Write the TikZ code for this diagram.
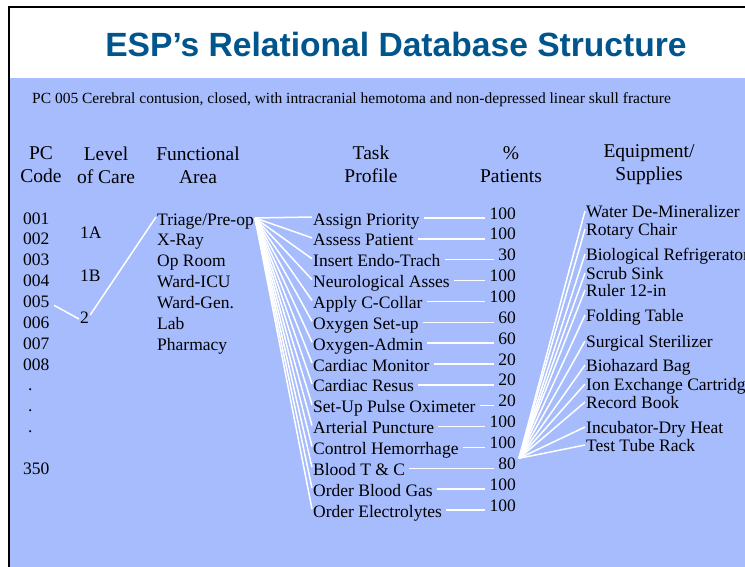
\documentclass[tikz,border=0pt]{standalone}
\usepackage{fontspec}
\setmainfont{Liberation Serif}
\newfontfamily\titlefont{Liberation Sans}
\usetikzlibrary{positioning}
\usetikzlibrary{calc}
\definecolor{slideblue}{RGB}{166,188,252}
\definecolor{titleblue}{RGB}{0,85,140}
\tikzset{
  item/.style={anchor=west,inner sep=1pt,text height=12pt,text depth=4pt,font=\fontsize{17.5}{20}\selectfont},
  pct/.style={item,anchor=east},
  head/.style={align=center,inner sep=1pt,font=\fontsize{19.5}{23}\selectfont},
  link/.style={draw=white,line width=1.5pt}
}
\begin{document}
\begin{tikzpicture}[x=1pt,y=-1pt]
    \useasboundingbox (0,0) rectangle (745,566);
    \clip (0,0) rectangle (745,566);
    \fill[white] (0,0) rectangle (745,566);
    \fill[slideblue] (9,78) rectangle (760,580);
    \draw[line width=2.5pt] (9,7) rectangle (760,580);
    \node[text=titleblue,font=\titlefont\bfseries\fontsize{33.6}{40}\selectfont] (title) at (396,44) {ESP’s Relational Database Structure};
    \node[anchor=west,inner sep=1pt,font=\fontsize{15.5}{18}\selectfont] (case) at (31,100) {PC 005 Cerebral contusion, closed, with intracranial hemotoma and non-depressed linear skull fracture};
    \node[head] (hpc) at (41,165) {PC\\Code};
    \node[head] (hlv) at (106,165) {Level\\of Care};
    \node[head] (hfa) at (198,165) {Functional\\Area};
    \node[head] (htk) at (371,164) {Task\\Profile};
    \node[head] (hpt) at (511,165) {\%\\Patients};
    \node[head] (heq) at (649,165) {Equipment/\\Supplies};
    \foreach \c [count=\i] in {001,002,003,004,005,006,007,008}
      \node[item] (pc\i) at (22,{220+20.86*(\i-1)}) {\c};
    \foreach \k in {8,9,10}
      \node[item] (dot\k) at (27,{220+20.86*\k}) {.};
    \node[item] (pc350) at (22,{220+20.86*12}) {350};
    \node[item] (lv1) at (79,234) {1A};
    \node[item] (lv2) at (79,277) {1B};
    \node[item] (lv3) at (79,319) {2};
    \foreach \a [count=\i] in {Triage/Pre-op,X-Ray,Op Room,Ward-ICU,Ward-Gen.,Lab,Pharmacy}
      \node[item] (fa\i) at (156,{221+20.86*(\i-1)}) {\a};
    \foreach \t [count=\i] in {Assign Priority,Assess Patient,Insert Endo-Trach,Neurological Asses,Apply C-Collar,Oxygen Set-up,Oxygen-Admin,Cardiac Monitor,Cardiac Resus,Set-Up Pulse Oximeter,Arterial Puncture,Control Hemorrhage,Blood T \& C,Order Blood Gas,Order Electrolytes}
      \node[item] (tk\i) at (312,{221+20.86*(\i-1)}) {\t};
    \foreach \v [count=\i] in {100,100,30,100,100,60,60,20,20,20,100,100,80,100,100}
      \node[pct] (p\i) at (517,{215+20.86*(\i-1)}) {\v};
    \foreach \e/\y [count=\i] in {Water De-Mineralizer/213,Rotary Chair/231,Biological Refrigerator/256,Scrub Sink/275,Ruler 12-in/292,Folding Table/317,Surgical Sterilizer/343,Biohazard Bag/367,Ion Exchange Cartridge/386,Record Book/404,Incubator-Dry Heat/429,Test Tube Rack/447}
      \node[item] (eq\i) at (585,\y) {\e};
    \draw[link,shorten <=4pt] (pc5.east) -- (lv3.west);
    \draw[link] ([yshift=4pt]lv3.east) -- ([yshift=4pt]fa1.west);
    \foreach \i in {1,...,15}
      \draw[link] ([yshift=3pt]fa1.east) -- ([yshift=4pt]tk\i.west);
    \foreach \i in {1,...,15}
      \draw[link] ($(tk\i.east |- p\i.west)+(3,3)$) -- ($(p\i.west)+(-3,3)$);
    \coordinate (hub) at ([xshift=2pt,yshift=7pt]p13.east);
    \foreach \i in {1,...,12}
      \draw[link] (hub) -- ([yshift=2pt]eq\i.west);
  \end{tikzpicture}
\end{document}
